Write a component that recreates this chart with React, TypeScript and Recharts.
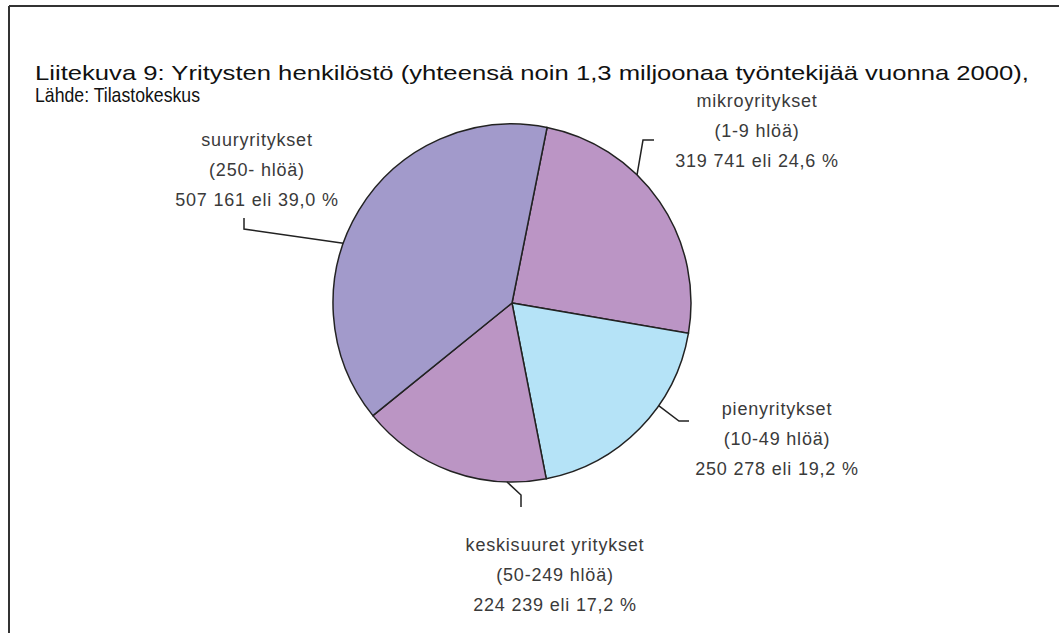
import React from "react";
import { PieChart, Pie, Cell } from "recharts";

const categories = ["mikroyritykset", "pienyritykset", "keskisuuret yritykset", "suuryritykset"];
const sizeRanges = ["(1-9 hlöä)", "(10-49 hlöä)", "(50-249 hlöä)", "(250- hlöä)"];
const employees = [319741, 250278, 224239, 507161];
const percentLabels = ["24,6", "19,2", "17,2", "39,0"];
const colors = ["#BB95C5", "#B5E3F7", "#BB95C4", "#A29ACB"];

const titleLines = [
  "Liitekuva 9: Yritysten henkilöstö (yhteensä noin 1,3 miljoonaa työntekijää vuonna 2000),",
  "Lähde: Tilastokeskus",
];

// label layout (annotation placement, relative to the pie centre)
const leaderAngles = [44.3, 125, 181.6, 289.5]; // clockwise from top
const leaderPoints = [
  [[131, -163], [142, -163]],
  [[167, 118], [177, 118]],
  [[9, 192], [9, 204]],
  [[-268, -74], [-268, -85]],
];
const labelAnchors = [
  [245, -196],
  [265, 112],
  [43, 248],
  [-255, -157],
];

const data = categories.map((c, i) => ({
  name: c,
  range: sizeRanges[i],
  value: employees[i],
  pct: percentLabels[i],
}));

const fmt = (v: number) => String(v).replace(/\B(?=(\d{3})+(?!\d))/g, " ");

const renderLabel = (props: any) => {
  const { cx, cy, outerRadius, index } = props;
  const a = (leaderAngles[index] * Math.PI) / 180;
  const sx = cx + outerRadius * Math.sin(a);
  const sy = cy - outerRadius * Math.cos(a);
  const pts = leaderPoints[index];
  const path = `M${sx},${sy} L${cx + pts[0][0]},${cy + pts[0][1]} L${cx + pts[1][0]},${cy + pts[1][1]}`;
  const [lx, ly] = labelAnchors[index];
  const d = data[index];
  const lines = [d.name, d.range, `${fmt(d.value)} eli ${d.pct} %`];
  return (
    <g key={`lbl-${index}`}>
      <path d={path} stroke="#222" strokeWidth={1.5} fill="none" />
      {lines.map((t, k) => (
        <text
          key={k}
          x={cx + lx}
          y={cy + ly + k * 30}
          textAnchor="middle"
          fontFamily="'Liberation Sans', Arial, sans-serif"
          fontSize={18}
          letterSpacing={0.8}
          fill="#3a3a3a"
        >
          {t}
        </text>
      ))}
    </g>
  );
};

export default function App() {
  const titleFont = "'Liberation Sans', Arial, sans-serif";
  return (
    <div style={{ position: "absolute", left: 0, top: 0, width: 1059, height: 633, background: "#fff" }}>
      <svg width={1059} height={633} style={{ position: "absolute", left: 0, top: 0 }}>
        <line x1={9} y1={6} x2={1059} y2={6} stroke="#333" strokeWidth={2} />
        <line x1={9} y1={6} x2={9} y2={633} stroke="#333" strokeWidth={2} />
        <text x={35} y={80} fontFamily={titleFont} fontSize={21} fill="#111"
          textLength={994} lengthAdjust="spacingAndGlyphs">{titleLines[0]}</text>
        <text x={35} y={102} fontFamily={titleFont} fontSize={21} fill="#111"
          textLength={165} lengthAdjust="spacingAndGlyphs">{titleLines[1]}</text>
      </svg>
      <div style={{ position: "absolute", left: 0, top: 0 }}>
        <PieChart width={1059} height={633} margin={{ top: 0, right: 0, bottom: 0, left: 0 }}>
          <Pie
            data={data}
            dataKey="value"
            nameKey="name"
            cx={512}
            cy={303}
            outerRadius={179}
            startAngle={78.7}
            endAngle={-281.3}
            stroke="#222"
            strokeWidth={1.5}
            label={renderLabel}
            labelLine={false}
            isAnimationActive={false}
          >
            {data.map((d, i) => (
              <Cell key={d.name} fill={colors[i]} />
            ))}
          </Pie>
        </PieChart>
      </div>
    </div>
  );
}
